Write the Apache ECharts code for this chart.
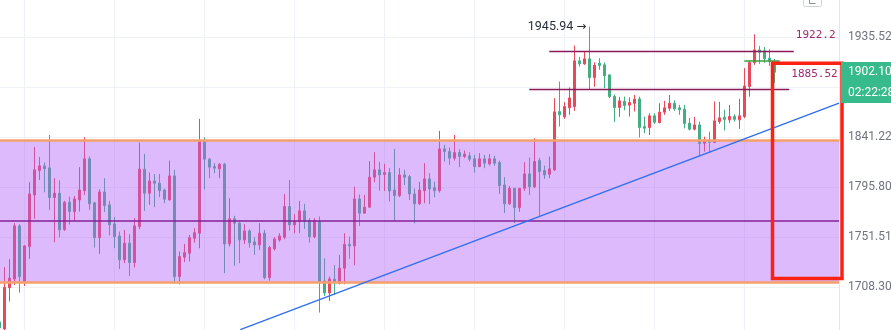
<!DOCTYPE html>
<html>
<head>
<meta charset="utf-8">
<script src="https://cdn.jsdelivr.net/npm/echarts@6/dist/echarts.min.js"></script>
<style>
  html, body { margin: 0; padding: 0; background: #ffffff; }
  #chart { width: 891px; height: 330px; }
</style>
</head>
<body>
<div id="chart"></div>
<script>
// Candle OHLC, one entry per bar (bar index = position in the arrays)
const OPEN = [
  1679.05,1673.15,1707.96,1715.47,1761.52,1713.14,1743.39,1788.98,1810.88,1815.15,
  1813.33,1786.59,1790.49,1758.24,1782.51,1774.19,1784.55,1792.79,1821.51,1781.89,
  1751.17,1791.64,1780.12,1763.29,1752.66,1731.89,1746.32,1729.56,1760.90,1812.15,
  1790.49,1801.52,1799.43,1793.41,1784.55,1806.06,1717.46,1734.23,1737.68,1750.65,
  1755.05,1837.22,1821.24,1814.51,1812.42,1816.69,1745.72,1767.72,1763.91,1749.18,
  1757.09,1747.45,1744.86,1755.05,1716.60,1741.40,1749.18,1751.51,1778.62,1762.41,
  1765.33,1774.81,1765.95,1752.04,1765.51,1713.74,1703.49,1715.21,1711.76,1724.72,
  1745.46,1743.99,1785.44,1772.77,1778.08,1804.88,1811.52,1807.43,1809.06,1793.41,
  1788.36,1806.97,1805.43,1789.87,1781.01,1792.79,1803.34,1795.45,1792.79,1830.59,
  1828.14,1822.14,1827.23,1823.60,1824.23,1821.51,1814.51,1821.51,1816.97,1821.51,
  1818.15,1797.89,1781.01,1794.92,1777.73,1794.92,1807.88,1796.35,1819.96,1810.88,
  1807.61,1811.52,1865.06,1860.13,1868.51,1869.72,1912.90,1910.03,1914.81,1896.95,
  1910.70,1909.08,1899.53,1879.22,1868.79,1874.56,1871.02,1872.70,1876.89,1851.09,
  1850.16,1861.06,1854.82,1864.51,1868.04,1872.89,1868.51,1867.30,1854.26,1848.67,
  1852.68,1835.77,1838.77,1836.50,1855.75,1859.66,1857.33,1860.41,1857.33,1860.41,
  1888.55,1911.27,1923.40,1922.44,1915.47,1910.03
];
const CLOSE = [
  1673.99,1708.30,1716.08,1761.52,1717.46,1743.99,1789.87,1811.52,1815.15,1812.42,
  1786.59,1790.49,1757.98,1782.51,1774.19,1785.44,1793.41,1821.51,1781.01,1751.17,
  1791.64,1779.50,1762.41,1752.04,1731.89,1746.32,1729.56,1761.52,1812.15,1790.49,
  1801.52,1799.43,1792.79,1785.17,1806.06,1717.46,1734.74,1738.20,1751.17,1755.58,
  1837.22,1821.24,1813.97,1813.06,1816.69,1745.72,1767.72,1763.91,1749.18,1757.09,
  1746.84,1744.86,1755.05,1716.60,1742.52,1750.04,1752.66,1778.62,1762.41,1765.33,
  1774.81,1765.33,1752.04,1765.95,1713.14,1703.49,1715.47,1712.02,1724.72,1745.46,
  1743.99,1785.44,1772.77,1778.08,1804.88,1811.52,1806.97,1809.06,1792.52,1788.36,
  1806.97,1804.88,1789.87,1781.01,1793.41,1803.34,1794.29,1792.79,1830.59,1828.14,
  1822.14,1827.23,1823.60,1825.78,1821.24,1814.51,1821.51,1817.60,1821.51,1817.60,
  1797.25,1781.01,1794.92,1777.73,1794.92,1807.88,1796.35,1819.06,1809.97,1806.97,
  1812.42,1864.78,1861.99,1869.72,1877.82,1912.90,1910.03,1914.81,1896.95,1908.60,
  1908.41,1898.58,1879.03,1868.79,1875.03,1870.65,1873.45,1876.61,1850.35,1849.60,
  1861.06,1855.19,1864.51,1868.51,1872.89,1867.58,1866.65,1854.07,1848.67,1852.68,
  1835.59,1838.77,1836.68,1856.40,1859.20,1857.80,1860.41,1857.80,1861.06,1889.03,
  1911.27,1923.40,1921.20,1914.81,1912.23,1902.10
];
const LOW = [
  1671.46,1671.88,1696.16,1710.29,1703.75,1709.42,1732.76,1767.72,1802.43,1791.37,
  1775.69,1747.19,1751.51,1757.09,1762.67,1765.95,1774.19,1788.98,1775.69,1742.52,
  1737.08,1773.66,1753.10,1742.00,1723.86,1729.04,1718.07,1725.24,1758.60,1774.81,
  1780.12,1778.08,1786.94,1781.63,1783.93,1711.15,1710.89,1729.91,1730.42,1746.84,
  1742.00,1794.03,1803.98,1808.52,1803.98,1720.40,1743.39,1726.71,1729.04,1745.72,
  1742.52,1736.21,1740.53,1715.21,1714.00,1739.93,1747.71,1749.78,1757.36,1755.05,
  1755.05,1758.86,1746.84,1750.65,1686.89,1700.97,1696.75,1701.81,1710.72,1710.89,
  1732.76,1727.14,1761.52,1772.59,1777.91,1800.34,1792.79,1792.52,1783.04,1765.68,
  1786.94,1797.89,1784.55,1763.73,1780.12,1781.63,1780.74,1786.94,1791.02,1819.06,
  1816.06,1819.96,1813.97,1822.14,1819.06,1809.06,1813.97,1813.06,1815.42,1815.15,
  1789.87,1772.77,1780.12,1763.91,1773.92,1792.52,1788.98,1794.92,1770.38,1803.34,
  1803.98,1810.61,1851.09,1858.26,1861.99,1865.72,1907.45,1909.08,1885.28,1888.36,
  1904.30,1886.86,1877.54,1855.47,1860.13,1866.18,1860.41,1865.06,1841.04,1844.95,
  1843.36,1853.61,1854.07,1861.99,1865.72,1865.72,1861.99,1849.42,1847.55,1847.55,
  1823.60,1828.14,1826.69,1835.77,1853.61,1847.55,1854.54,1855.75,1848.95,1858.92,
  1879.03,1909.08,1910.03,1910.99,1908.12,1891.61
];
const HIGH = [
  1680.73,1725.58,1732.50,1763.91,1763.03,1744.86,1800.34,1832.41,1823.05,1818.15,
  1843.36,1803.98,1802.16,1783.66,1787.47,1788.09,1813.97,1841.22,1823.60,1782.78,
  1794.03,1803.98,1783.66,1769.23,1756.47,1757.98,1754.17,1768.34,1836.31,1826.05,
  1809.06,1807.61,1807.88,1794.56,1819.96,1811.52,1739.07,1745.72,1753.55,1759.48,
  1858.26,1841.22,1822.42,1817.60,1817.42,1817.87,1786.06,1770.38,1765.33,1763.03,
  1758.60,1751.51,1763.91,1757.98,1743.99,1751.51,1755.05,1789.87,1802.43,1771.88,
  1783.66,1781.01,1768.34,1768.34,1769.76,1733.19,1717.46,1727.31,1736.21,1755.05,
  1752.04,1796.35,1789.42,1788.98,1819.42,1827.59,1818.78,1816.97,1813.06,1830.59,
  1813.06,1811.52,1806.97,1794.74,1800.61,1817.60,1808.52,1800.89,1847.09,1834.22,
  1831.77,1843.36,1830.32,1829.05,1827.59,1825.14,1826.69,1825.14,1825.78,1824.23,
  1819.96,1804.88,1796.98,1795.18,1795.18,1818.51,1822.69,1840.31,1822.42,1815.42,
  1823.60,1877.54,1893.14,1873.82,1887.60,1927.50,1916.71,1921.96,1945.94,1911.46,
  1915.47,1911.46,1900.01,1881.08,1878.76,1879.03,1878.29,1880.62,1879.03,1860.41,
  1863.57,1863.57,1872.89,1875.03,1880.62,1875.50,1871.30,1871.30,1859.20,1860.13,
  1855.75,1841.78,1846.44,1874.56,1874.10,1866.65,1871.30,1862.64,1876.89,1905.93,
  1912.90,1938.46,1927.21,1926.26,1923.87,1914.81
];

// Price scale labels (log scale) and bar indices where the time gridlines fall
const PRICE_TICKS = [1708.30, 1751.51, 1795.80, 1841.22, 1887.79, 1935.52];
const TIME_GRID = [5, 23, 41, 59, 77, 95, 113, 131, 149];

// Drawings on the chart (prices and bar indices)
const ZONE_TOP = 1838.77;
const ZONE_BOTTOM = 1712.88;
const ZONE_MID = 1765.95;
const RES_LEVELS = [
  { price: 1922.26, from: 110, to: 158.9 },
  { price: 1885.52, from: 106, to: 158.0 }
];
const ENTRY_LEVEL = { price: 1912.90, from: 149, to: 156.1 };
const TREND_FROM = [48.2, 1672.6];
const TREND_TO_PRICE = 1872.9;
const SESSION_HIGH = { bar: 118, price: 1945.94 };
const FRAME = { from: 154.64, to: 168.54, top: 1910.51, bottom: 1715.91 };
const LAST_PRICE = 1902.10;
const COUNTDOWN = '02:22:28';

// Visible range of the price pane, in bar units and price
const X_MIN = 0.14;
const X_MAX = 167.94;      // right edge of the plotting pane
const X_FULL_MAX = 178.34; // right edge including the price scale strip
const Y_MIN = 1672.25;
const Y_MAX = 1971.93;
const LOG_BASE = 1.02529191;

const UP = '#e9475a';
const DOWN = '#44ad82';

const candles = OPEN.map((o, i) => [i, o, CLOSE[i], LOW[i], HIGH[i]]);

function nearestTick(v) {
  let best = PRICE_TICKS[0];
  for (const t of PRICE_TICKS) if (Math.abs(t - v) < Math.abs(best - v)) best = t;
  return best.toFixed(2);
}

function seg(x1, y1, x2, y2, style) {
  return [{ coord: [x1, y1], lineStyle: style }, { coord: [x2, y2] }];
}

const chart = echarts.init(document.getElementById('chart'), null, { renderer: 'canvas' });

chart.setOption({
  animation: false,
  backgroundColor: '#ffffff',
  textStyle: { fontFamily: 'Roboto, sans-serif' },
  grid: [
    { left: 0, right: 52, top: 0, bottom: 0, outerBoundsMode: 'none', containLabel: false },
    { left: 0, right: 0, top: 0, bottom: 0, outerBoundsMode: 'none', containLabel: false }
  ],
  xAxis: [
    {
      type: 'value', gridIndex: 0, min: X_MIN, max: X_MAX,
      axisLine: { show: false },
      axisTick: { show: false, customValues: TIME_GRID },
      axisLabel: { show: false },
      splitLine: { show: true, lineStyle: { color: '#eef1f6', width: 1 } }
    },
    { type: 'value', gridIndex: 1, min: X_MIN, max: X_FULL_MAX, show: false, splitLine: { show: false } }
  ],
  yAxis: [
    {
      type: 'log', logBase: LOG_BASE, gridIndex: 0, position: 'right',
      min: Y_MIN, max: Y_MAX,
      axisLine: { show: true, lineStyle: { color: '#e3e6ec' } },
      axisTick: { show: false },
      axisLabel: {
        margin: 9, color: '#6f737e', fontSize: 12,
        showMinLabel: false, showMaxLabel: false,
        formatter: nearestTick
      },
      splitLine: { show: true, showMinLine: false, showMaxLine: false, lineStyle: { color: '#eef1f6' } }
    },
    {
      type: 'log', logBase: LOG_BASE, gridIndex: 1, min: Y_MIN, max: Y_MAX,
      show: false, splitLine: { show: false }
    }
  ],
  series: [
    {
      name: 'XAUUSD',
      type: 'candlestick',
      xAxisIndex: 0, yAxisIndex: 0,
      data: candles,
      encode: { x: 0, y: [1, 2, 3, 4] },
      barWidth: 2,
      z: 2,
      silent: true,
      itemStyle: { color: UP, color0: DOWN, borderColor: UP, borderColor0: DOWN, borderWidth: 1 },
      markPoint: {
        silent: true, z: 5, symbolSize: 0,
        data: [{
          coord: [SESSION_HIGH.bar, SESSION_HIGH.price],
          label: {
            show: true, position: 'left', distance: 3,
            formatter: '{t|' + SESSION_HIGH.price.toFixed(2) + '} {a|\u2192}',
            rich: {
              t: { color: '#2a2e39', fontSize: 12.5, fontFamily: 'Roboto, sans-serif' },
              a: { color: '#2a2e39', fontSize: 12, fontFamily: 'DejaVu Sans, sans-serif' }
            }
          }
        }]
      }
    },
    {
      name: 'zone',
      type: 'line',
      xAxisIndex: 1, yAxisIndex: 1,
      data: [],
      silent: true,
      markArea: {
        silent: true, z: 3,
        label: { show: false },
        itemStyle: { color: 'rgba(178,98,245,0.44)', borderWidth: 0 },
        data: [[{ coord: [X_MIN, ZONE_TOP] }, { coord: [X_MAX, ZONE_BOTTOM] }]]
      },
      markLine: {
        silent: true, z: 4,
        symbol: ['none', 'none'],
        label: { show: false },
        emphasis: { disabled: true },
        data: [
          seg(X_MIN, ZONE_TOP, X_MAX, ZONE_TOP, { color: '#f4a06a', width: 2.5, type: 'solid' }),
          seg(X_MIN, ZONE_BOTTOM, X_MAX, ZONE_BOTTOM, { color: '#f4a06a', width: 2.5, type: 'solid' }),
          seg(X_MIN, ZONE_MID, X_MAX, ZONE_MID, { color: '#84209a', width: 1.6, type: 'solid' }),
          seg(TREND_FROM[0], TREND_FROM[1], X_MAX, TREND_TO_PRICE, { color: '#2e6ff0', width: 1.4, type: 'solid' }),
          ...RES_LEVELS.map(l => seg(l.from, l.price, l.to, l.price, { color: '#8c1a5b', width: 1.4, type: 'solid' })),
          seg(ENTRY_LEVEL.from, ENTRY_LEVEL.price, ENTRY_LEVEL.to, ENTRY_LEVEL.price, { color: '#3d9f3d', width: 1.5, type: 'solid' })
        ]
      },
      markPoint: {
        silent: true, z: 4, symbolSize: 0,
        data: RES_LEVELS.map((l, k) => ({
          coord: [l.to, l.price],
          label: {
            show: true, position: [2, -21], formatter: l.price.toFixed(2),
            color: '#a0296e', fontSize: 11, fontFamily: 'DejaVu Sans Mono, monospace',
            width: k === 0 ? 42 : 48, overflow: 'truncate', ellipsis: ''
          }
        }))
      }
    },
    {
      name: 'frame',
      type: 'line',
      xAxisIndex: 1, yAxisIndex: 1,
      data: [],
      silent: true,
      clip: false,
      markArea: {
        silent: true, z: 6,
        label: { show: false },
        itemStyle: { color: 'rgba(0,0,0,0)', borderColor: '#fb2214', borderWidth: 3.5 },
        data: [[{ coord: [FRAME.from, FRAME.top] }, { coord: [FRAME.to, FRAME.bottom] }]]
      },
      markPoint: {
        silent: true, z: 7, symbolSize: 0,
        data: [{
          coord: [X_MAX, LAST_PRICE],
          label: {
            show: true, position: [2, -10.3],
            formatter: LAST_PRICE.toFixed(2) + '\n' + COUNTDOWN,
            color: '#ffffff', fontSize: 12, lineHeight: 20.5,
            backgroundColor: '#37bb8d', padding: [0, 8, 0, 7], width: 60
          }
        }]
      }
    }
  ],
  graphic: [
    { type: 'rect', z: 20, shape: { x: 803.5, y: -12.5, width: 18, height: 19, r: 2 },
      style: { fill: '#ffffff', stroke: '#cfd2d9', lineWidth: 1 } },
    { type: 'polyline', z: 21, shape: { points: [[809.5, 0], [809.5, 3.5], [815.5, 3.5]] },
      style: { stroke: '#8a8e98', lineWidth: 1, fill: null } }
  ]
});
</script>
</body>
</html>
